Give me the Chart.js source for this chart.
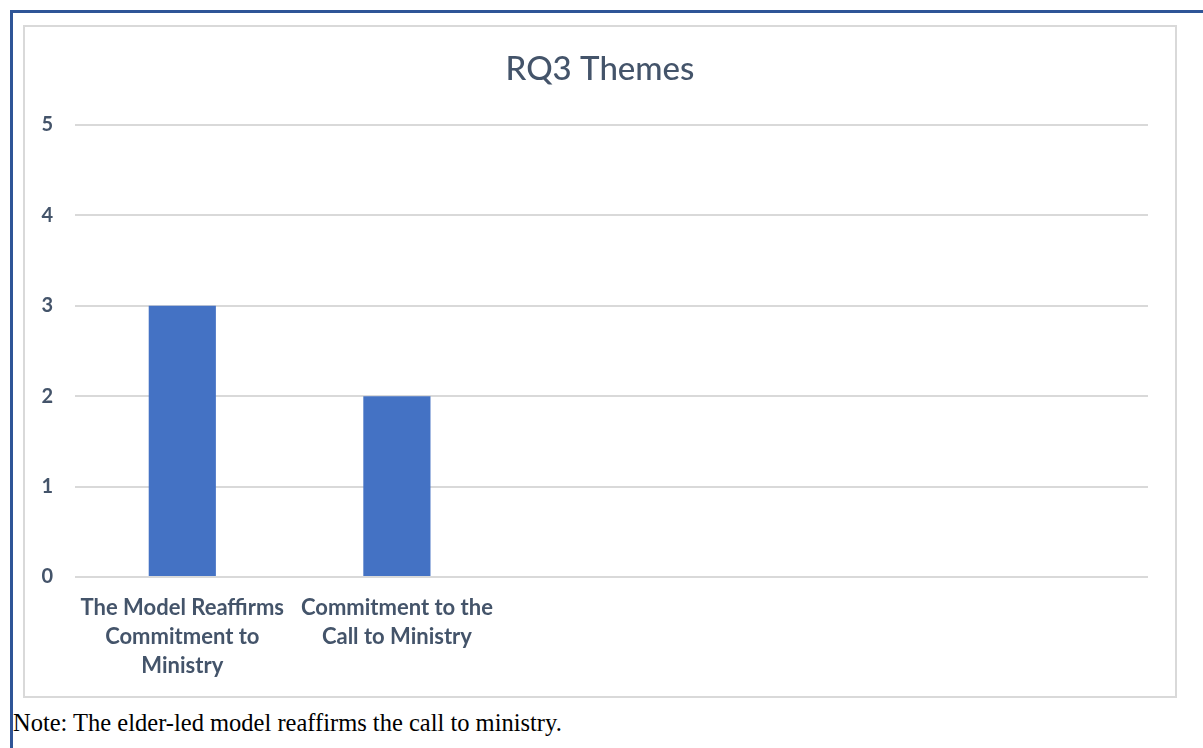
<!DOCTYPE html>
<html>
<head>
<meta charset="utf-8">
<script src="https://cdn.jsdelivr.net/npm/chart.js@4/dist/chart.umd.min.js"></script>
<style>
  html, body { margin: 0; padding: 0; background: #ffffff; }
  body { width: 1203px; height: 748px; position: relative; overflow: hidden; }
  #frame {
    position: absolute; left: 10px; top: 10px; width: 1210px; height: 760px;
    border-left: 3px solid #2f5597; border-top: 3px solid #2f5597;
    box-sizing: border-box;
  }
  #box {
    position: absolute; left: 23px; top: 25px; width: 1154px; height: 673px;
    border: 2px solid #d9d9d9; box-sizing: border-box;
  }
  #wrap { position: absolute; left: 25px; top: 27px; width: 1150px; height: 669px; }
  #note {
    position: absolute; left: 13px; top: 709px;
    font-family: "Liberation Serif", "Times New Roman", serif;
    font-size: 24.5px; color: #000000; white-space: nowrap;
  }
</style>
</head>
<body>
<div id="frame"></div>
<div id="box"></div>
<div id="wrap"><canvas id="chart"></canvas></div>
<div id="note">Note: The elder-led model reaffirms the call to ministry.</div>
<script>
  // Theme categories (five slots on the axis, only the first two are used)
  const categories = [
    ["The Model Reaffirms", "Commitment to", "Ministry"],
    ["Commitment to the", "Call to Ministry"],
    "",
    "",
    ""
  ];
  const counts = [3, 2, null, null, null];
  const yTicks = [0, 1, 2, 3, 4, 5];
  const chartTitle = "RQ3 Themes";

  const ink = "#44546a";
  const fontFamily = "Lato, 'Open Sans', sans-serif";

  // Center the title across the whole canvas rather than the padded box
  const fullWidthTitle = {
    id: "fullWidthTitle",
    afterLayout(chart) {
      const t = chart.titleBlock;
      if (t) { t.left = 0; t.right = chart.width; }
    }
  };

  new Chart(document.getElementById("chart"), {
    type: "bar",
    data: {
      labels: categories,
      datasets: [{
        label: "Count",
        data: counts,
        backgroundColor: "#4472c4",
        borderWidth: 0,
        barPercentage: 0.313,
        categoryPercentage: 1.0
      }]
    },
    plugins: [fullWidthTitle],
    options: {
      responsive: true,
      maintainAspectRatio: false,
      animation: false,
      layout: { padding: { left: 0, right: 27, top: 0, bottom: 0 } },
      plugins: {
        legend: { display: false },
        tooltip: { enabled: false },
        title: {
          display: true,
          text: chartTitle,
          color: ink,
          font: { family: fontFamily, size: 33, weight: "500" },
          padding: { top: 23, bottom: 35.4 }
        }
      },
      scales: {
        x: {
          grid: { display: false, drawTicks: false },
          border: { display: false },
          ticks: {
            color: ink,
            font: { family: fontFamily, size: 22, weight: "bold", lineHeight: 1.32 },
            padding: 16,
            maxRotation: 0,
            autoSkip: false
          },
          afterFit(scale) { scale.height = 119; }
        },
        y: {
          min: 0,
          max: 5,
          afterBuildTicks(scale) { scale.ticks = yTicks.map(v => ({ value: v })); },
          grid: { color: "#d9d9d9", lineWidth: 2, drawTicks: false },
          border: { display: false },
          ticks: {
            color: ink,
            font: { family: fontFamily, size: 20, weight: "bold" },
            padding: 22
          },
          afterFit(scale) { scale.width = 50; }
        }
      }
    }
  });
</script>
</body>
</html>
